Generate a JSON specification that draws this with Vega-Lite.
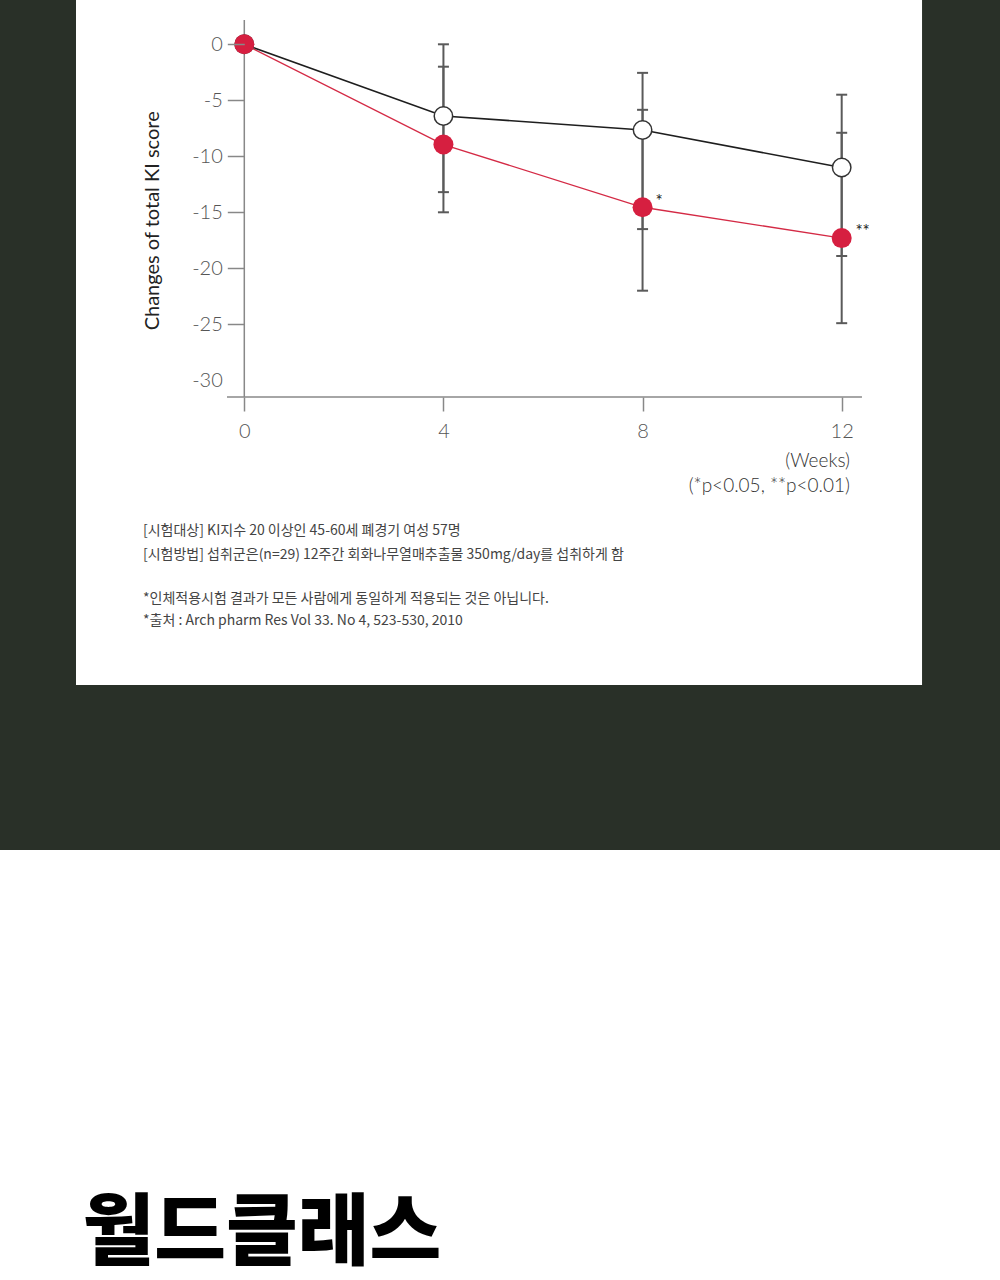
{
  "$schema": "https://vega.github.io/schema/vega-lite/v6.json",
  "usermeta": {"embedOptions": {"actions": false}},
  "width": 1000,
  "height": 1280,
  "autosize": {"type": "none"},
  "padding": 0,
  "background": "#ffffff",
  "config": {"view": {"stroke": null}, "font": "Lato"},
  "datasets": {
    "scores": [
      {"week": 0, "group": "Control", "mean": 0},
      {"week": 4, "group": "Control", "mean": -6.4, "lo": -13.2, "hi": 0},
      {"week": 8, "group": "Control", "mean": -7.65, "lo": -16.5, "hi": -2.55},
      {"week": 12, "group": "Control", "mean": -11.0, "lo": -18.9, "hi": -4.5},
      {"week": 0, "group": "Extract", "mean": 0},
      {"week": 4, "group": "Extract", "mean": -8.95, "lo": -15.0, "hi": -2.0},
      {"week": 8, "group": "Extract", "mean": -14.55, "lo": -22.0, "hi": -5.85},
      {"week": 12, "group": "Extract", "mean": -17.3, "lo": -24.9, "hi": -7.9}
    ]
  },
  "layer": [
    {
      "data": {"values": [{}]},
      "mark": {"type": "rect", "color": "#293028"},
      "encoding": {
        "x": {"datum": -4.9073, "type": "quantitative",
          "scale": {"domain": [-4.9073, 15.18], "nice": false, "zero": false},
          "axis": {"orient": "bottom", "offset": -883, "zindex": 1, "values": [0, 4, 8, 12], "domain": false, "grid": false,
            "tickSize": 14, "tickColor": "#888", "tickWidth": 1.5,
            "labelFont": "Lato", "labelFontSize": 20, "labelFontWeight": 300, "labelColor": "#555", "labelPadding": 10,
            "labelExpr": "'' + datum.value", "title": null}},
        "x2": {"datum": 15.18},
        "y": {"datum": 3.955, "type": "quantitative",
          "scale": {"domain": [-110.33, 3.955], "nice": false, "zero": false},
          "axis": {"orient": "left", "offset": -244.3, "zindex": 1, "values": [0, -5, -10, -15, -20, -25, -30], "domain": false, "grid": false,
            "tickSize": 17, "tickColor": "#888", "tickWidth": 1.5,
            "tickOpacity": {"condition": {"test": "datum.value === -30", "value": 0}, "value": 1},
            "labelFont": "Lato", "labelFontSize": 20, "labelFontWeight": 300, "labelColor": "#555", "labelPadding": 5,
            "labelExpr": "'' + datum.value", "title": null}},
        "y2": {"datum": -71.94}
      }
    },
    {
      "data": {"values": [{}]},
      "mark": {"type": "rect", "color": "#ffffff"},
      "encoding": {
        "x": {"datum": -3.3807, "type": "quantitative"},
        "x2": {"datum": 13.614},
        "y": {"datum": 3.955, "type": "quantitative"},
        "y2": {"datum": -57.205}
      }
    },
    {
      "data": {"values": [{}]},
      "mark": {"type": "rule", "color": "#888", "strokeWidth": 1.5},
      "encoding": {
        "x": {"datum": 0, "type": "quantitative"},
        "y": {"datum": 2.17, "type": "quantitative"},
        "y2": {"datum": -31.49}
      }
    },
    {
      "data": {"values": [{}]},
      "mark": {"type": "rule", "color": "#888", "strokeWidth": 1.5},
      "encoding": {
        "x": {"datum": -0.3475, "type": "quantitative"},
        "x2": {"datum": 12.407},
        "y": {"datum": -31.49, "type": "quantitative"}
      }
    },
    {
      "data": {"name": "scores"},
      "mark": {"type": "rule", "color": "#5a5a5a", "strokeWidth": 2},
      "encoding": {
        "x": {"field": "week", "type": "quantitative"},
        "y": {"field": "lo", "type": "quantitative"},
        "y2": {"field": "hi"}
      }
    },
    {
      "data": {"name": "scores"},
      "transform": [{"fold": ["lo", "hi"], "as": ["end", "v"]}, {"filter": "isValid(datum.v)"}],
      "mark": {"type": "tick", "orient": "horizontal", "color": "#5a5a5a", "size": 11, "thickness": 2, "opacity": 1},
      "encoding": {
        "x": {"field": "week", "type": "quantitative"},
        "y": {"field": "v", "type": "quantitative"}
      }
    },
    {
      "data": {"name": "scores"},
      "transform": [{"filter": "datum.group === 'Extract'"}],
      "mark": {"type": "line", "color": "#d42a45", "strokeWidth": 1.3},
      "encoding": {
        "x": {"field": "week", "type": "quantitative"},
        "y": {"field": "mean", "type": "quantitative"}
      }
    },
    {
      "data": {"name": "scores"},
      "transform": [{"filter": "datum.group === 'Control'"}],
      "mark": {"type": "line", "color": "#1e1e1e", "strokeWidth": 1.6},
      "encoding": {
        "x": {"field": "week", "type": "quantitative"},
        "y": {"field": "mean", "type": "quantitative"}
      }
    },
    {
      "data": {"name": "scores"},
      "transform": [{"filter": "datum.group === 'Control'"}],
      "mark": {"type": "circle", "filled": true, "fill": "#ffffff", "stroke": "#333333", "strokeWidth": 1.5, "size": 340, "opacity": 1},
      "encoding": {
        "x": {"field": "week", "type": "quantitative"},
        "y": {"field": "mean", "type": "quantitative"}
      }
    },
    {
      "data": {"name": "scores"},
      "transform": [{"filter": "datum.group === 'Extract'"}],
      "mark": {"type": "circle", "filled": true, "fill": "#d61f40", "size": 400, "opacity": 1},
      "encoding": {
        "x": {"field": "week", "type": "quantitative"},
        "y": {"field": "mean", "type": "quantitative"}
      }
    },
    {
      "data": {"values": [{}]},
      "mark": {"type": "text", "text": "*", "font": "Lato", "fontSize": 17, "color": "#222", "align": "center", "baseline": "middle"},
      "encoding": {"x": {"datum": 8.33, "type": "quantitative"}, "y": {"datum": -14.1, "type": "quantitative"}}
    },
    {
      "data": {"values": [{}]},
      "mark": {"type": "text", "text": "**", "font": "Lato", "fontSize": 17, "color": "#222", "align": "center", "baseline": "middle"},
      "encoding": {"x": {"datum": 12.42, "type": "quantitative"}, "y": {"datum": -16.75, "type": "quantitative"}}
    },
    {
      "data": {"values": [{}]},
      "mark": {"type": "text", "text": "(Weeks)", "font": "Lato", "fontSize": 19, "fontWeight": 300, "color": "#333", "align": "right", "baseline": "middle"},
      "encoding": {"x": {"datum": 12.167, "type": "quantitative"}, "y": {"datum": -37.2, "type": "quantitative"}}
    },
    {
      "data": {"values": [{}]},
      "mark": {"type": "text", "text": "(*p<0.05, **p<0.01)", "font": "Lato", "fontSize": 19, "fontWeight": 300, "color": "#333", "align": "right", "baseline": "middle"},
      "encoding": {"x": {"datum": 12.167, "type": "quantitative"}, "y": {"datum": -39.45, "type": "quantitative"}}
    },
    {
      "data": {"values": [{}]},
      "mark": {"type": "text", "text": "Changes of total KI score", "font": "Lato", "fontSize": 20, "color": "#222", "align": "center", "baseline": "middle", "angle": 270},
      "encoding": {"x": {"datum": -1.834, "type": "quantitative"}, "y": {"datum": -15.76, "type": "quantitative"}}
    },
    {
      "data": {"values": [{}]},
      "mark": {"type": "text", "text": "[시험대상] KI지수 20 이상인 45-60세 폐경기 여성 57명", "font": "Noto Sans CJK KR", "fontSize": 14, "color": "#444", "align": "left", "baseline": "middle"},
      "encoding": {"x": {"datum": -2.035, "type": "quantitative"}, "y": {"datum": -43.46, "type": "quantitative"}}
    },
    {
      "data": {"values": [{}]},
      "mark": {"type": "text", "text": "[시험방법] 섭취군은(n=29) 12주간 회화나무열매추출물 350mg/day를 섭취하게 함", "font": "Noto Sans CJK KR", "fontSize": 14, "color": "#444", "align": "left", "baseline": "middle"},
      "encoding": {"x": {"datum": -2.035, "type": "quantitative"}, "y": {"datum": -45.6, "type": "quantitative"}}
    },
    {
      "data": {"values": [{}]},
      "mark": {"type": "text", "text": "*인체적용시험 결과가 모든 사람에게 동일하게 적용되는 것은 아닙니다.", "font": "Noto Sans CJK KR", "fontSize": 14, "color": "#444", "align": "left", "baseline": "middle"},
      "encoding": {"x": {"datum": -2.035, "type": "quantitative"}, "y": {"datum": -49.5, "type": "quantitative"}}
    },
    {
      "data": {"values": [{}]},
      "mark": {"type": "text", "text": "*출처 : Arch pharm Res Vol 33. No 4, 523-530, 2010", "font": "Noto Sans CJK KR", "fontSize": 14, "color": "#444", "align": "left", "baseline": "middle"},
      "encoding": {"x": {"datum": -2.035, "type": "quantitative"}, "y": {"datum": -51.5, "type": "quantitative"}}
    },
    {
      "data": {"values": [{}]},
      "mark": {"type": "text", "text": "월드클래스", "font": "Noto Sans CJK KR", "fontSize": 78, "fontWeight": 900, "color": "#000", "align": "left", "baseline": "middle"},
      "encoding": {"x": {"datum": -3.25, "type": "quantitative"}, "y": {"datum": -106.4, "type": "quantitative"}}
    }
  ]
}
